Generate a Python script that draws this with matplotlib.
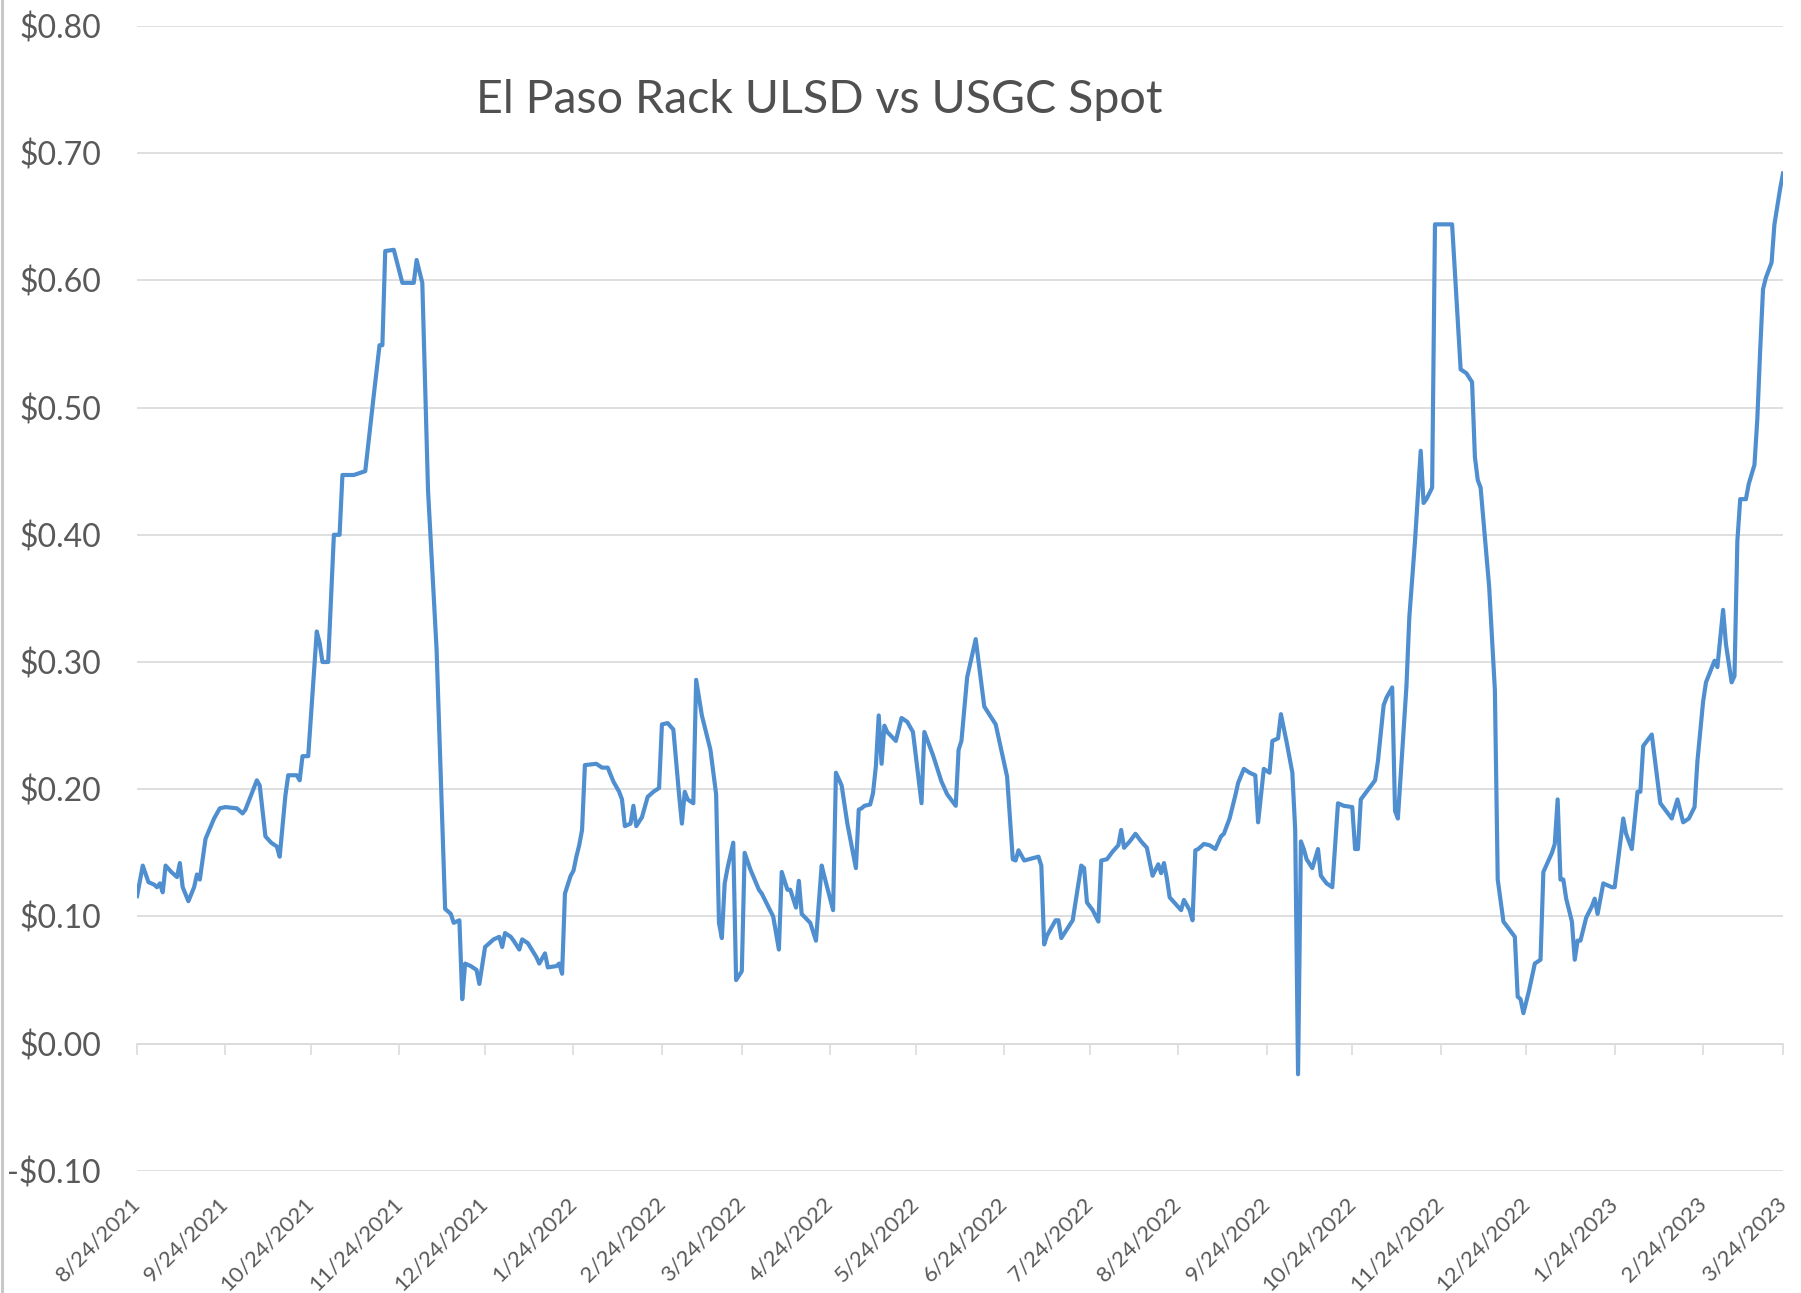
import matplotlib
matplotlib.use("Agg")
import matplotlib.pyplot as plt
from matplotlib.lines import Line2D
from matplotlib.ticker import FuncFormatter, MultipleLocator
import pandas as pd

# ─── Data ───────────────────────────────────────────────────────────────────
TITLE = "El Paso Rack ULSD vs USGC Spot"
START_DATE = "2021-08-24"

TICK_LABELS = [
    "8/24/2021", "9/24/2021", "10/24/2021", "11/24/2021", "12/24/2021",
    "1/24/2022", "2/24/2022", "3/24/2022", "4/24/2022", "5/24/2022",
    "6/24/2022", "7/24/2022", "8/24/2022", "9/24/2022", "10/24/2022",
    "11/24/2022", "12/24/2022", "1/24/2023", "2/24/2023", "3/24/2023",
]

# days since START_DATE
DAYS = [
    0, 2, 4, 6, 7, 8, 9, 10, 12, 14, 15, 16, 18, 20, 21, 22, 24, 27, 29, 31,
    35, 37, 38, 42, 43, 45, 47, 49, 50, 52, 53, 56, 57, 58, 60, 63, 64, 65, 67, 69,
    71, 72, 76, 80, 83, 85, 86, 87, 90, 93, 97, 98, 100, 102, 105, 108, 110, 111, 113, 114,
    115, 117, 119, 120, 122, 125, 127, 128, 129, 131, 132, 134, 135, 137, 140, 141, 143, 144, 147, 148,
    149, 150, 152, 153, 154, 155, 156, 157, 161, 163, 165, 167, 169, 170, 171, 173, 174, 175, 177, 179,
    181, 183, 184, 186, 188, 190, 191, 192, 193, 195, 196, 198, 201, 203, 204, 205, 206, 207, 209, 210,
    212, 213, 215, 218, 219, 221, 223, 225, 226, 228, 229, 231, 232, 233, 236, 238, 240, 241, 244, 245,
    247, 249, 252, 253, 254, 255, 257, 258, 259, 260, 261, 262, 263, 266, 268, 270, 272, 275, 276, 279,
    282, 284, 287, 288, 289, 291, 294, 297, 299, 301, 305, 307, 308, 309, 311, 316, 317, 318, 319, 322,
    323, 324, 326, 328, 331, 332, 333, 335, 337, 338, 340, 342, 344, 345, 346, 348, 350, 352, 354, 356,
    358, 359, 360, 361, 362, 364, 366, 367, 369, 370, 371, 372, 374, 376, 378, 380, 381, 383, 385, 386,
    388, 390, 392, 393, 395, 397, 398, 400, 401, 403, 405, 406, 407, 408, 409, 410, 412, 414, 415, 417,
    419, 421, 423, 426, 427, 428, 429, 431, 434, 435, 437, 438, 440, 441, 442, 445, 446, 448, 450, 451,
    452, 454, 455, 458, 461, 464, 466, 468, 469, 470, 471, 474, 476, 477, 479, 481, 483, 484, 485, 486,
    488, 490, 492, 493, 496, 497, 498, 499, 500, 501, 503, 504, 505, 506, 508, 510, 511, 512, 514, 517,
    518, 521, 522, 524, 526, 527, 528, 531, 534, 536, 538, 540, 542, 544, 546, 547, 549, 550, 553, 554,
    556, 557, 559, 560, 561, 562, 564, 565, 567, 568, 569, 570, 571, 573, 574, 576, 577,
]

SPREAD = [
    0.116, 0.140, 0.127, 0.125, 0.123, 0.126, 0.119, 0.140, 0.135, 0.131, 0.142, 0.123, 0.112, 0.123, 0.133, 0.129, 0.161, 0.177, 0.185, 0.186,
    0.185, 0.181, 0.184, 0.207, 0.203, 0.163, 0.158, 0.155, 0.147, 0.195, 0.211, 0.211, 0.207, 0.226, 0.226, 0.324, 0.315, 0.300, 0.300, 0.400,
    0.400, 0.447, 0.447, 0.450, 0.510, 0.549, 0.549, 0.623, 0.624, 0.598, 0.598, 0.616, 0.598, 0.435, 0.310, 0.106, 0.102, 0.095, 0.097, 0.035,
    0.063, 0.061, 0.058, 0.047, 0.076, 0.082, 0.084, 0.076, 0.087, 0.084, 0.081, 0.074, 0.082, 0.079, 0.068, 0.063, 0.071, 0.060, 0.061, 0.063,
    0.055, 0.118, 0.132, 0.136, 0.147, 0.156, 0.168, 0.219, 0.220, 0.217, 0.217, 0.206, 0.198, 0.192, 0.171, 0.173, 0.187, 0.171, 0.178, 0.194,
    0.198, 0.201, 0.251, 0.252, 0.247, 0.196, 0.173, 0.198, 0.192, 0.189, 0.286, 0.258, 0.231, 0.196, 0.095, 0.083, 0.126, 0.138, 0.158, 0.050,
    0.057, 0.150, 0.137, 0.121, 0.118, 0.109, 0.100, 0.074, 0.135, 0.121, 0.121, 0.107, 0.128, 0.102, 0.095, 0.081, 0.140, 0.131, 0.105, 0.213,
    0.203, 0.173, 0.138, 0.184, 0.185, 0.187, 0.188, 0.197, 0.218, 0.258, 0.220, 0.250, 0.245, 0.238, 0.256, 0.253, 0.245, 0.189, 0.245, 0.227,
    0.206, 0.196, 0.187, 0.231, 0.238, 0.288, 0.318, 0.265, 0.258, 0.251, 0.210, 0.145, 0.144, 0.152, 0.144, 0.147, 0.140, 0.078, 0.085, 0.097,
    0.097, 0.083, 0.090, 0.097, 0.140, 0.138, 0.111, 0.105, 0.096, 0.144, 0.145, 0.151, 0.156, 0.168, 0.154, 0.159, 0.165, 0.159, 0.154, 0.132,
    0.141, 0.134, 0.142, 0.130, 0.115, 0.110, 0.105, 0.113, 0.105, 0.097, 0.152, 0.153, 0.157, 0.156, 0.153, 0.163, 0.165, 0.177, 0.195, 0.205,
    0.216, 0.213, 0.211, 0.174, 0.216, 0.213, 0.238, 0.240, 0.259, 0.237, 0.213, 0.168, -0.024, 0.159, 0.153, 0.145, 0.138, 0.153, 0.132, 0.126,
    0.123, 0.189, 0.187, 0.186, 0.153, 0.153, 0.192, 0.198, 0.207, 0.222, 0.266, 0.272, 0.280, 0.183, 0.177, 0.281, 0.335, 0.395, 0.466, 0.425,
    0.428, 0.437, 0.644, 0.644, 0.644, 0.530, 0.527, 0.520, 0.461, 0.443, 0.437, 0.359, 0.278, 0.129, 0.096, 0.090, 0.084, 0.037, 0.035, 0.024,
    0.042, 0.063, 0.066, 0.135, 0.150, 0.157, 0.192, 0.129, 0.129, 0.114, 0.096, 0.066, 0.081, 0.081, 0.099, 0.108, 0.114, 0.102, 0.126, 0.123,
    0.123, 0.177, 0.165, 0.153, 0.198, 0.198, 0.234, 0.243, 0.189, 0.183, 0.177, 0.192, 0.174, 0.177, 0.186, 0.222, 0.269, 0.284, 0.301, 0.296,
    0.341, 0.314, 0.284, 0.289, 0.395, 0.428, 0.428, 0.440, 0.455, 0.491, 0.545, 0.593, 0.602, 0.614, 0.644, 0.672, 0.684,
]

Y_MIN, Y_MAX, Y_STEP = -0.10, 0.80, 0.10

# ─── Style ──────────────────────────────────────────────────────────────────
LINE_COLOR = "#4F8FD0"
GRID_COLOR = "#DCDCDC"
TEXT_COLOR = "#595959"
FONT = ["Lato", "DejaVu Sans"]


def money(v, _pos=None):
    v = round(v, 2)
    if v < 0:
        return f"-${abs(v):.2f}"
    return f"${v:.2f}"


def main():
    plt.rcParams["font.family"] = FONT

    dates = pd.to_datetime(START_DATE) + pd.to_timedelta(DAYS, unit="D")
    ticks = pd.to_datetime(TICK_LABELS, format="%m/%d/%Y")

    fig = plt.figure(figsize=(18.01, 12.93), dpi=100)
    ax = fig.add_axes([0.0761, 0.0944, 0.9139, 0.8856])

    ax.plot(dates, SPREAD, color=LINE_COLOR, lw=3.0, solid_joinstyle="round")

    ax.set_xlim(ticks[0], ticks[-1])
    ax.set_ylim(Y_MIN, Y_MAX)
    ax.yaxis.set_major_locator(MultipleLocator(Y_STEP))
    ax.yaxis.set_major_formatter(FuncFormatter(money))
    ax.yaxis.grid(True, color=GRID_COLOR, lw=1.3)
    ax.set_axisbelow(True)

    ax.set_xticks(ticks)
    ax.set_xticklabels(TICK_LABELS, rotation=45, ha="right", va="center",
                       rotation_mode="anchor")
    ax.tick_params(axis="x", length=0, pad=21, labelsize=16, labelcolor=TEXT_COLOR)
    ax.tick_params(axis="y", length=0, pad=26, labelsize=23, labelcolor=TEXT_COLOR)

    for side in ("top", "right", "left", "bottom"):
        ax.spines[side].set_visible(False)

    # horizontal axis line with tick marks sits at $0.00
    zero_pos = (0 - Y_MIN) / (Y_MAX - Y_MIN)
    sec = ax.secondary_xaxis(zero_pos)
    sec.set_xticks(ticks)
    sec.tick_params(axis="x", direction="out", length=8, width=1.2,
                    color=GRID_COLOR, labelbottom=False, labeltop=False)
    for sp in sec.spines.values():
        sp.set_color(GRID_COLOR)
        sp.set_linewidth(1.3)

    fig.text(0.455, 0.923, TITLE, ha="center", va="center",
             fontsize=33.5, color="#505050")

    # thin grey frame edge on the left of the picture
    fig.add_artist(Line2D([0.0012, 0.0012], [0, 1], color="#C8C8C8", lw=2.2,
                          transform=fig.transFigure))

    fig.savefig("out.png", dpi=100, facecolor="white")
    plt.close(fig)


if __name__ == "__main__":
    main()
